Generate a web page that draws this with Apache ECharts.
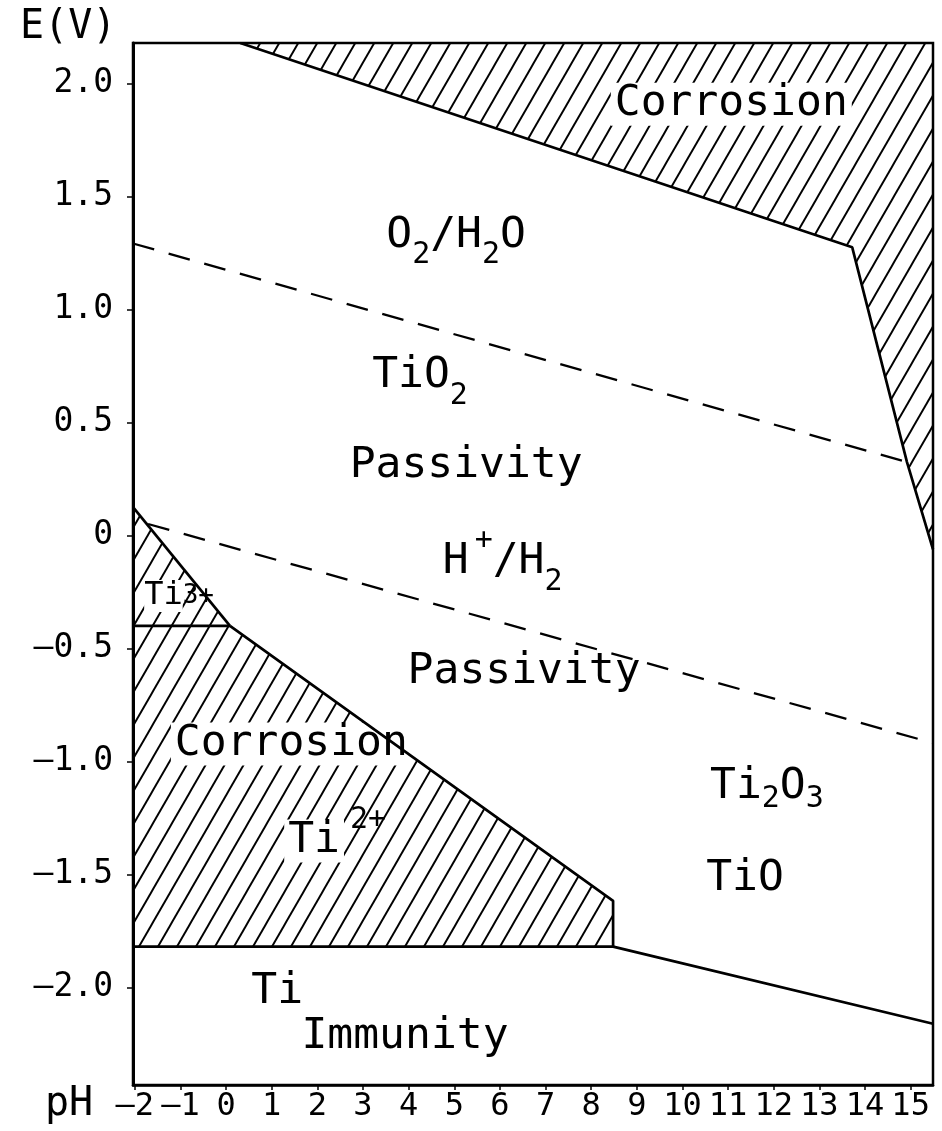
<!DOCTYPE html>
<html><head><meta charset="utf-8">
<script src="https://cdn.jsdelivr.net/npm/echarts@6/dist/echarts.min.js"></script>
<style>html,body{margin:0;padding:0;background:#fff}#c{width:942px;height:1131px}</style>
</head><body><div id="c"></div>
<script>
// axis extents (pH, E in volts)
const PH_MIN = -2.04, PH_MAX = 15.49;
const E_MIN = -2.43, E_MAX = 2.18;

// boundary lines [pH, E]
const topCorrosionEdge = [[0.31, 2.18], [13.72, 1.276], [14.92, 0.326], [15.49, -0.06]];
const ti3Edge = [[-2.04, 0.127], [0.085, -0.399]];
const ti2Edge = [[0.085, -0.399], [8.48, -1.615], [8.48, -1.818]];
const ti3Ti2Edge = [[-2.04, -0.399], [0.085, -0.399]];
const immunityEdge = [[-2.04, -1.818], [8.48, -1.818], [15.49, -2.159]];
const o2Line = [[-2.04, 1.293], [14.92, 0.326]];
const h2Line = [[-1.71, 0.052], [15.49, -0.917]];

// hatched corrosion areas [pH, E]
const topCorrosionArea = [[0.31, 2.18], [13.72, 1.276], [14.92, 0.326], [15.49, -0.06], [15.49, 2.18]];
const ti3Area = [[-2.04, 0.127], [0.085, -0.399], [-2.04, -0.399]];
const ti2Area = [[-2.04, -0.399], [0.085, -0.399], [8.48, -1.615], [8.48, -1.818], [-2.04, -1.818]];

// region labels
const labelPos = [
  [11.07, 1.909], [5.04, 1.329], [4.25, 0.706], [5.26, 0.308], [6.06, -0.117],
  [-1.03, -0.267], [6.53, -0.603], [1.43, -0.921], [2.39, -1.35],
  [11.85, -1.111], [11.37, -1.518], [1.12, -2.018], [3.92, -2.217]
];
const labelTexts = [
  '{w|Corrosion}',
  '{m|O}{sub|2}{m|/H}{sub|2}{m|O}',
  '{m|TiO}{sub|2}',
  '{m|Passivity}',
  '{m|H}{sup|+}{m|/H}{sub|2}',
  '{tw|Ti}{t3|3+}',
  '{m|Passivity}',
  '{w|Corrosion}',
  '{w|Ti}{sup|2+}',
  '{m|Ti}{sub2|2}{m|O}{sub2|3}',
  '{m|TiO}',
  '{m|Ti}',
  '{m|Immunity}'
];

const FONT = 'DejaVu Sans Mono';

function makeHatch() {
  const W = 19, H = 33;
  const c = document.createElement('canvas');
  c.width = W; c.height = H;
  const g = c.getContext('2d');
  g.strokeStyle = '#000'; g.lineWidth = 1.9;
  for (const dx of [-W, 0, W]) {
    g.beginPath();
    g.moveTo(dx - W * 0.5, H * 1.5);
    g.lineTo(dx + W * 1.5, -H * 0.5);
    g.stroke();
  }
  return { image: c, repeat: 'repeat' };
}
const hatch = makeHatch();

function areaSeries(points) {
  return {
    type: 'custom', z: 1, silent: true, clip: true,
    data: [points[0]],
    renderItem: function (params, api) {
      return {
        type: 'polygon',
        shape: { points: points.map(p => api.coord(p)) },
        style: { fill: hatch, stroke: null }
      };
    }
  };
}
function lineSeries(data, dashed) {
  return {
    type: 'line', data: data, z: 5, symbol: 'none', silent: true,
    lineStyle: { color: '#000', width: dashed ? 2.3 : 2.7, type: dashed ? [22, 15] : 'solid' }
  };
}

const chart = echarts.init(document.getElementById('c'));
chart.setOption({
  animation: false,
  backgroundColor: '#fff',
  grid: { left: 133, right: 9, top: 43, bottom: 46, show: true, borderColor: '#000', borderWidth: 2.5, outerBoundsMode: 'none' },
  xAxis: {
    type: 'value', min: PH_MIN, max: PH_MAX, minInterval: 1, maxInterval: 1,
    splitLine: { show: false },
    axisLine: { show: true, onZero: false, lineStyle: { color: '#000', width: 2.5 } },
    axisTick: { show: true, length: 5, lineStyle: { color: '#000', width: 1.5 } },
    axisLabel: {
      showMinLabel: false, showMaxLabel: false, margin: 6, color: '#000',
      fontFamily: FONT, fontSize: 32,
      formatter: v => (v < 0 ? '—' + (-v) : String(v))
    }
  },
  yAxis: {
    type: 'value', min: E_MIN, max: E_MAX, minInterval: 0.5, maxInterval: 0.5,
    splitLine: { show: false },
    axisLine: { show: true, onZero: false, lineStyle: { color: '#000', width: 3 } },
    axisTick: { show: true, length: 6, lineStyle: { color: '#000', width: 1.5 } },
    axisLabel: {
      showMinLabel: false, showMaxLabel: false, margin: 20, color: '#000',
      fontFamily: FONT, fontSize: 33,
      formatter: v => (Math.abs(v) < 1e-9 ? '0' : (v < 0 ? '—' + (-v).toFixed(1) : v.toFixed(1)))
    }
  },
  graphic: [
    { type: 'text', left: 20, top: 8, style: { text: 'E(V)', fontFamily: FONT, fontSize: 40, fill: '#000' } },
    { type: 'text', left: 45, top: 1085, style: { text: 'pH', fontFamily: FONT, fontSize: 40, fill: '#000' } }
  ],
  series: [
    areaSeries(topCorrosionArea),
    areaSeries(ti3Area),
    areaSeries(ti2Area),
    {
      type: 'scatter', z: 3, silent: true, symbolSize: 0,
      itemStyle: { opacity: 1 },
      data: labelPos.map((p, i) => ({ value: p, name: labelTexts[i] })),
      label: {
        show: true, position: 'inside', color: '#000', opacity: 1,
        formatter: p => p.name,
        rich: {
          m: { fontFamily: FONT, fontSize: 43, color: '#000' },
          w: { fontFamily: FONT, fontSize: 43, color: '#000', backgroundColor: '#fff', padding: [0, 4] },
          sub: { fontFamily: FONT, fontSize: 30, color: '#000', padding: [40, 0, 0, 0] },
          sub2: { fontFamily: FONT, fontSize: 30, color: '#000', padding: [24, 0, 0, 0] },
          sup: { fontFamily: FONT, fontSize: 30, color: '#000', padding: [0, 0, 42, 6] },
          tw: { fontFamily: FONT, fontSize: 32, color: '#000', backgroundColor: '#fff' },
          t3: { fontFamily: FONT, fontSize: 26, color: '#000' }
        }
      }
    },
    lineSeries(topCorrosionEdge, false),
    lineSeries(ti3Edge, false),
    lineSeries(ti2Edge, false),
    lineSeries(ti3Ti2Edge, false),
    lineSeries(immunityEdge, false),
    lineSeries(o2Line, true),
    lineSeries(h2Line, true)
  ]
});
</script></body></html>
